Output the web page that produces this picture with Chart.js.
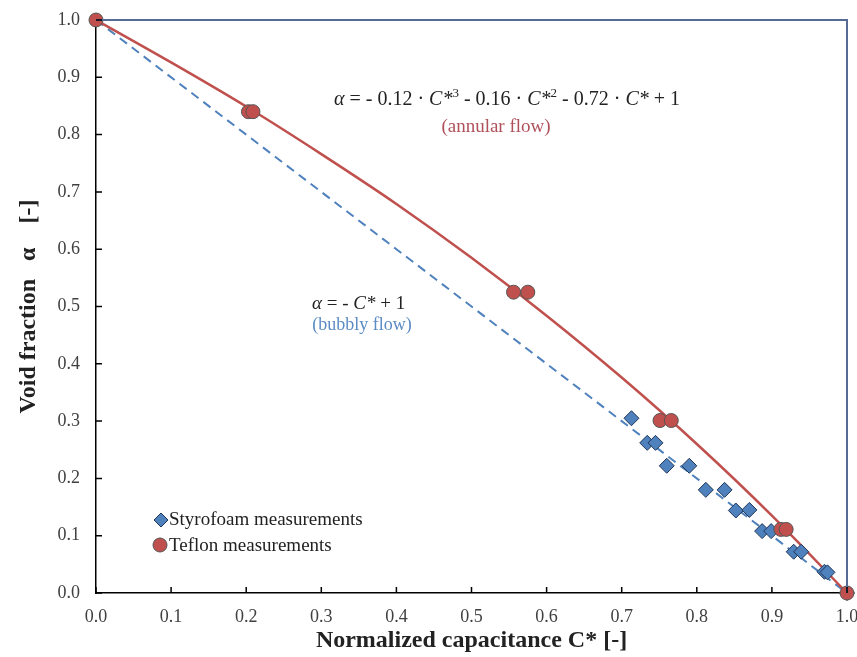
<!DOCTYPE html>
<html>
<head>
<meta charset="utf-8">
<script src="https://cdn.jsdelivr.net/npm/chart.js@4.4.1/dist/chart.umd.min.js"></script>
<style>
  html, body { margin: 0; padding: 0; background: #fff; }
  #wrap { width: 857px; height: 657px; position: relative; }
</style>
</head>
<body>
<div id="wrap"><canvas id="chart"></canvas></div>
<script>
// Styrofoam measurements (diamonds)
const styroC = [0.713, 0.734, 0.745, 0.760, 0.790, 0.812, 0.837, 0.852, 0.870, 0.887, 0.899, 0.929, 0.939, 0.970, 0.974, 1.0];
const styroA = [0.305, 0.262, 0.262, 0.222, 0.222, 0.180, 0.180, 0.144, 0.145, 0.108, 0.108, 0.072, 0.072, 0.037, 0.036, 0.0];

// Teflon measurements (circles)
const teflonC = [0.0, 0.203, 0.209, 0.556, 0.575, 0.751, 0.766, 0.912, 0.919, 1.0];
const teflonA = [1.0, 0.84, 0.84, 0.525, 0.525, 0.301, 0.301, 0.111, 0.111, 0.0];

// annular flow fit curve
const annularC = [0.0, 0.1, 0.2, 0.3, 0.4, 0.5, 0.6, 0.7, 0.8, 0.9, 1.0];
const annularA = [1.0, 0.926, 0.849, 0.766, 0.679, 0.585, 0.484, 0.376, 0.260, 0.135, 0.0];

// bubbly flow line
const bubblyC = [0.0, 1.0];
const bubblyA = [1.0, 0.0];

const xTicks = [0.0, 0.1, 0.2, 0.3, 0.4, 0.5, 0.6, 0.7, 0.8, 0.9, 1.0];
const yTicks = [0.0, 0.1, 0.2, 0.3, 0.4, 0.5, 0.6, 0.7, 0.8, 0.9, 1.0];

const xTitle = "Normalized capacitance C* [-]";
const yTitle = "Void fraction   \u03b1    [-]";
const styroLabel = "Styrofoam measurements";
const teflonLabel = "Teflon measurements";

const SERIF = "'Liberation Serif', 'Times New Roman', serif";
const RED = "#c0504d";
const BLUE = "#4f81bd";

function pts(xs, ys) {
    return xs.map((x, i) => ({ x: x, y: ys[i] }));
}

// draw a line of text made of runs (italic / superscript)
function drawRuns(ctx, runs, x, y, size, color) {
    ctx.fillStyle = color;
    ctx.textBaseline = "alphabetic";
    ctx.textAlign = "left";
    let cx = x;
    runs.forEach(r => {
        const s = r.sup ? Math.round(size * 0.65) : size;
        ctx.font = (r.i ? "italic " : "") + s + "px " + SERIF;
        ctx.fillText(r.t, cx, r.sup ? y - size * 0.38 : y);
        cx += ctx.measureText(r.t).width;
    });
}

// keep tick label overflow from shrinking the plot area
function noOverflow(s) {
    s.paddingTop = 0;
    s.paddingBottom = 0;
    s.paddingLeft = 0;
    s.paddingRight = 0;
}

const extras = {
    id: "extras",
    afterDraw(chart) {
        const ctx = chart.ctx;
        const a = chart.chartArea;
        const xs = chart.scales.x, ys = chart.scales.y;
        ctx.save();

        // blue-grey border top + right
        ctx.strokeStyle = "#566b94";
        ctx.lineWidth = 2;
        ctx.beginPath();
        ctx.moveTo(a.left, a.top);
        ctx.lineTo(a.right, a.top);
        ctx.lineTo(a.right, a.bottom);
        ctx.stroke();

        // inward ticks
        ctx.strokeStyle = "#000";
        ctx.lineWidth = 1.5;
        ctx.beginPath();
        xTicks.forEach(v => {
            const px = xs.getPixelForValue(v);
            ctx.moveTo(px, a.bottom);
            ctx.lineTo(px, a.bottom - 6);
        });
        yTicks.forEach(v => {
            const py = ys.getPixelForValue(v);
            ctx.moveTo(a.left, py);
            ctx.lineTo(a.left + 6, py);
        });
        ctx.stroke();

        // equations
        drawRuns(ctx, [
            { t: "\u03b1", i: true }, { t: " = - 0.12 \u00b7 " }, { t: "C*", i: true }, { t: "3", sup: true },
            { t: " - 0.16 \u00b7 " }, { t: "C*", i: true }, { t: "2", sup: true },
            { t: " - 0.72 \u00b7 " }, { t: "C*", i: true }, { t: " + 1" }
        ], 334, 105, 20, "#222");
        ctx.font = "19px " + SERIF;
        ctx.fillStyle = "#b0505a";
        ctx.textAlign = "center";
        ctx.textBaseline = "alphabetic";
        ctx.fillText("(annular flow)", 496, 132);

        drawRuns(ctx, [
            { t: "\u03b1", i: true }, { t: " = - " }, { t: "C*", i: true }, { t: " + 1" }
        ], 312, 309, 19, "#222");
        ctx.font = "18px " + SERIF;
        ctx.fillStyle = "#5b8cc4";
        ctx.textAlign = "center";
        ctx.fillText("(bubbly flow)", 362, 330);

        // legend
        ctx.fillStyle = BLUE;
        ctx.strokeStyle = "#1f3558";
        ctx.lineWidth = 1;
        ctx.beginPath();
        ctx.moveTo(161, 513); ctx.lineTo(168, 520); ctx.lineTo(161, 527); ctx.lineTo(154, 520);
        ctx.closePath();
        ctx.fill(); ctx.stroke();
        ctx.fillStyle = RED;
        ctx.strokeStyle = "#555";
        ctx.beginPath();
        ctx.arc(160, 545, 7, 0, Math.PI * 2);
        ctx.fill(); ctx.stroke();
        ctx.font = "19px " + SERIF;
        ctx.fillStyle = "#222";
        ctx.textAlign = "left";
        ctx.textBaseline = "middle";
        ctx.fillText(styroLabel, 169, 520);
        ctx.fillText(teflonLabel, 169, 546);

        ctx.restore();
    }
};

const ctx = document.getElementById("chart").getContext("2d");
new Chart(ctx, {
    type: "scatter",
    data: {
        datasets: [
            {
                label: teflonLabel,
                data: pts(teflonC, teflonA),
                backgroundColor: RED,
                borderColor: "#555",
                borderWidth: 1,
                pointStyle: "circle",
                pointRadius: 7,
                showLine: false,
                clip: false,
                order: 0
            },
            {
                label: styroLabel,
                data: pts(styroC, styroA),
                backgroundColor: BLUE,
                borderColor: "#1f3558",
                borderWidth: 1,
                pointStyle: "rectRot",
                pointRadius: 7.5,
                showLine: false,
                clip: false,
                order: 1
            },
            {
                label: "annular",
                data: pts(annularC, annularA),
                borderColor: RED,
                borderWidth: 2.5,
                pointRadius: 0,
                showLine: true,
                cubicInterpolationMode: "monotone",
                fill: false,
                order: 2
            },
            {
                label: "bubbly",
                data: pts(bubblyC, bubblyA),
                borderColor: BLUE,
                borderWidth: 2,
                borderDash: [9, 6],
                pointRadius: 0,
                showLine: true,
                fill: false,
                order: 3
            }
        ]
    },
    options: {
        responsive: true,
        maintainAspectRatio: false,
        animation: false,
        layout: { padding: { left: 0, right: 10, top: 20, bottom: 0 } },
        plugins: {
            legend: { display: false },
            tooltip: { enabled: false }
        },
        scales: {
            x: {
                type: "linear",
                min: 0,
                max: 1,
                afterFit: s => { s.height = 64; noOverflow(s); },
                afterBuildTicks: s => { s.ticks = xTicks.map(v => ({ value: v })); },
                grid: { display: false, drawTicks: false },
                border: { display: true, color: "#000", width: 1.5 },
                ticks: {
                    padding: 13,
                    color: "#404040",
                    font: { family: SERIF, size: 18 },
                    callback: v => v.toFixed(1)
                },
                title: {
                    display: true,
                    text: xTitle,
                    color: "#222",
                    font: { family: SERIF, size: 24, weight: "bold" },
                    padding: { top: 0, bottom: 2 }
                }
            },
            y: {
                type: "linear",
                min: 0,
                max: 1,
                afterFit: s => { s.width = 96; noOverflow(s); },
                afterBuildTicks: s => { s.ticks = yTicks.map(v => ({ value: v })); },
                grid: { display: false, drawTicks: false },
                border: { display: true, color: "#000", width: 1.5 },
                ticks: {
                    padding: 16,
                    color: "#404040",
                    font: { family: SERIF, size: 18 },
                    callback: v => v.toFixed(1)
                },
                title: {
                    display: true,
                    text: yTitle,
                    color: "#222",
                    font: { family: SERIF, size: 24, weight: "bold" },
                    padding: { top: 14, bottom: 0 }
                }
            }
        }
    },
    plugins: [extras]
});
</script>
</body>
</html>
